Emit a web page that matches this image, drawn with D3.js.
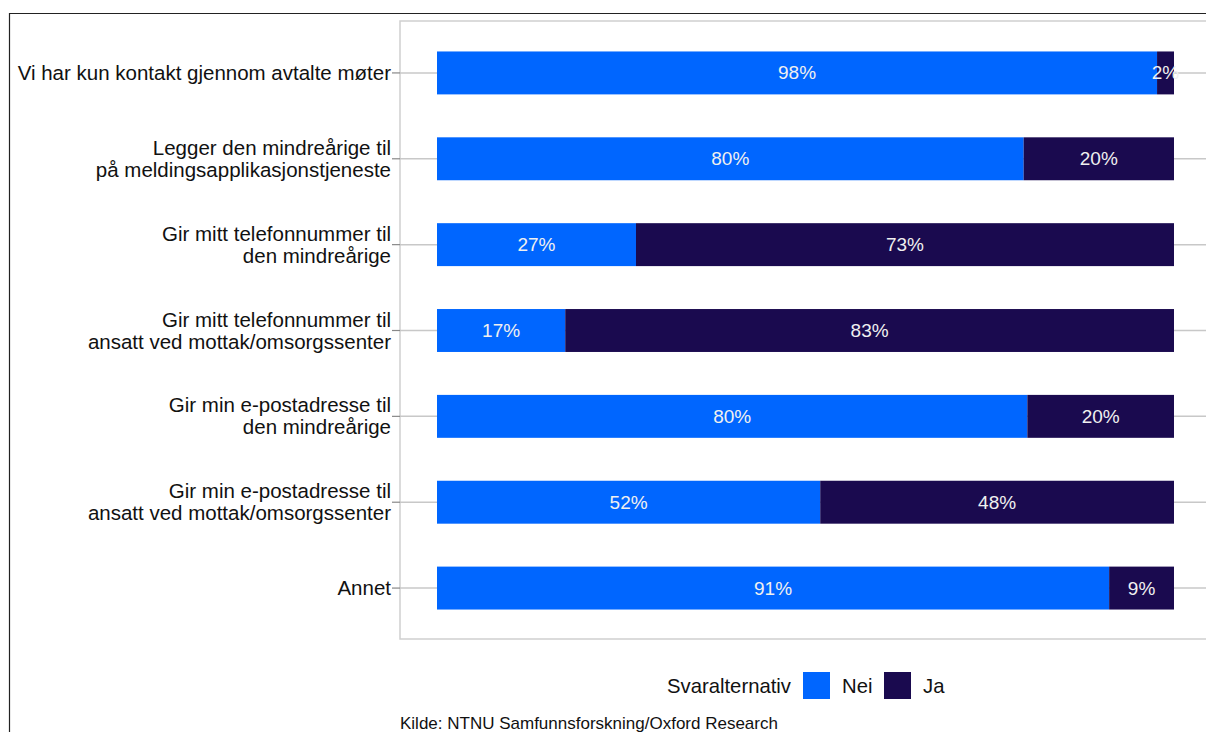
<!DOCTYPE html>
<html><head><meta charset="utf-8">
<script src="https://cdn.jsdelivr.net/npm/d3@7"></script>
<style>body{margin:0;background:#fff;}svg{display:block;font-family:"Liberation Sans",Arial,sans-serif;}</style>
</head><body>
<svg id="c" width="1206" height="732"></svg>
<script>
const categories = [
  ["Vi har kun kontakt gjennom avtalte møter"],
  ["Legger den mindreårige til","på meldingsapplikasjonstjeneste"],
  ["Gir mitt telefonnummer til","den mindreårige"],
  ["Gir mitt telefonnummer til","ansatt ved mottak/omsorgssenter"],
  ["Gir min e-postadresse til","den mindreårige"],
  ["Gir min e-postadresse til","ansatt ved mottak/omsorgssenter"],
  ["Annet"]
];
const nei = [97.7, 79.6, 27.0, 17.4, 80.1, 52.0, 91.2];
const ja  = [2.3, 20.4, 73.0, 82.6, 19.9, 48.0, 8.8];
const seriesNames = ["Nei","Ja"];
const colors = ["#0066ff","#1a0a4f"];
const legendTitle = "Svaralternativ";
const caption = "Kilde: NTNU Samfunnsforskning/Oxford Research";

const svg = d3.select("#c");
// outer frame lines
svg.append("line").attr("x1",9.5).attr("x2",9.5).attr("y1",13).attr("y2",732).attr("stroke","#222").attr("stroke-width",1.2);
svg.append("line").attr("x1",9).attr("x2",1206).attr("y1",13.5).attr("y2",13.5).attr("stroke","#222").attr("stroke-width",1.2);

const panel = {x0:400, y0:21, x1:1210, y1:639};
const x = d3.scaleLinear().domain([0,100]).range([437,1174]);
const y = d3.scaleBand().domain(d3.range(categories.length)).range([30,631]).paddingInner(0.5).paddingOuter(0.25);

// panel border
svg.append("rect").attr("x",panel.x0).attr("y",panel.y0).attr("width",panel.x1-panel.x0).attr("height",panel.y1-panel.y0)
  .attr("fill","none").attr("stroke","#cfcfcf").attr("stroke-width",1.5);

// gridlines
const gy = svg.append("g");
categories.forEach((c,i)=>{
  const cy = y(i)+y.bandwidth()/2;
  gy.append("line").attr("x1",panel.x0).attr("x2",1206).attr("y1",cy).attr("y2",cy).attr("stroke","#c8c8c8").attr("stroke-width",1.5);
  gy.append("line").attr("x1",392).attr("x2",panel.x0).attr("y1",cy).attr("y2",cy).attr("stroke","#888").attr("stroke-width",1.2);
  const t = gy.append("text").attr("x",391).attr("text-anchor","end").attr("font-size",20.5).attr("fill","#111");
  const n = c.length;
  c.forEach((line,k)=>{
    t.append("tspan").attr("x",391).attr("y",cy + (k-(n-1)/2)*22 + 7).text(line);
  });
});

// bars
const data = categories.map((c,i)=>[{s:0,v0:0,v1:nei[i]},{s:1,v0:nei[i],v1:nei[i]+ja[i]}]);
const bars = svg.append("g");
data.forEach((segs,i)=>{
  segs.forEach(d=>{
    bars.append("rect").attr("x",x(d.v0)).attr("y",y(i)).attr("width",x(d.v1)-x(d.v0)).attr("height",y.bandwidth())
      .attr("fill",colors[d.s]);
  });
});
data.forEach((segs,i)=>{
  segs.forEach(d=>{
    bars.append("text").attr("x",(x(d.v0)+x(d.v1))/2).attr("y",y(i)+y.bandwidth()/2+6.5)
      .attr("text-anchor","middle").attr("font-size",19).attr("fill","#f0f0f0")
      .text(Math.round(d.v1-d.v0)+"%");
  });
});

// legend
const lg = svg.append("g");
lg.append("text").attr("x",667).attr("y",693).attr("font-size",20.3).attr("fill","#111").text(legendTitle);
const lx = [803,884];
seriesNames.forEach((s,i)=>{
  lg.append("rect").attr("x",lx[i]).attr("y",672).attr("width",27).attr("height",27).attr("fill",colors[i]);
  lg.append("text").attr("x",lx[i]+39).attr("y",693).attr("font-size",20.3).attr("fill","#111").text(s);
});

svg.append("text").attr("x",400).attr("y",729).attr("font-size",17).attr("fill","#111").text(caption);
</script>
</body></html>
